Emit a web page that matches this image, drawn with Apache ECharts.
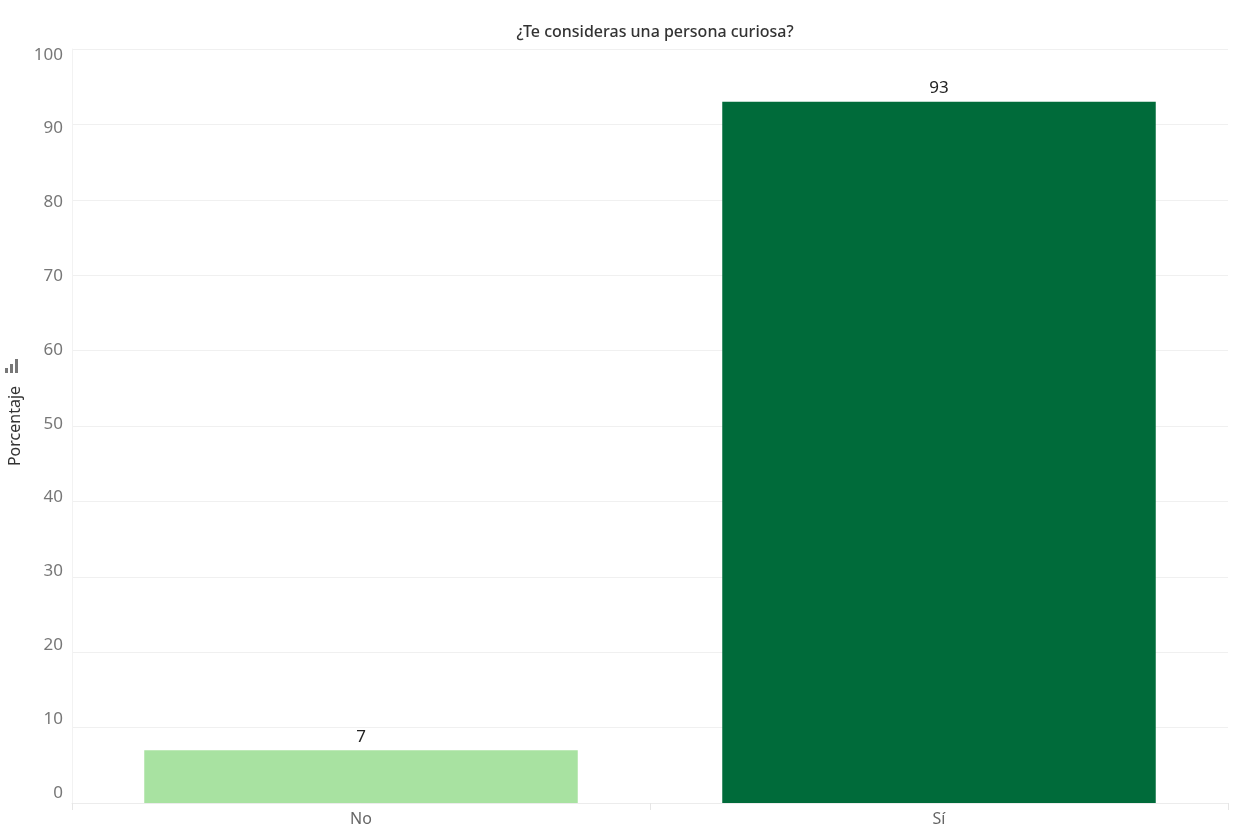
<!DOCTYPE html>
<html>
<head>
<meta charset="utf-8">
<script src="https://cdn.jsdelivr.net/npm/echarts@6/dist/echarts.min.js"></script>
<style>html,body{margin:0;padding:0;background:#fff;}#c{width:1239px;height:829px;}</style>
</head>
<body>
<div id="c"></div>
<script>
const categories = ['No', 'Sí'];
const values = [7, 93];
const barColors = ['#a8e2a1', '#006b3a'];
const yTicks = [0, 10, 20, 30, 40, 50, 60, 70, 80, 90, 100];
const titleText = '¿Te consideras una persona curiosa?';
const yName = 'Porcentaje';

const font = '"Noto Sans", "Open Sans", sans-serif';
const chart = echarts.init(document.getElementById('c'));
chart.setOption({
  animation: false,
  backgroundColor: '#ffffff',
  title: {
    text: titleText,
    left: 650, top: 19, textAlign: 'center',
    textStyle: { fontFamily: font, fontSize: 16, fontWeight: 500, color: '#333333' }
  },
  grid: { left: 72, right: 11, top: 49, bottom: 26, containLabel: false, outerBoundsMode: 'none' },
  xAxis: {
    type: 'category',
    data: categories,
    boundaryGap: true,
    axisLine: { show: true, lineStyle: { color: '#ececec', width: 1 } },
    axisTick: { show: true, length: 7, lineStyle: { color: '#e6e6e6' } },
    axisLabel: { fontFamily: font, fontSize: 16, color: '#666666', margin: 8 },
    splitLine: { show: false }
  },
  yAxis: [
    {
      type: 'value', min: 0, max: 100, interval: 10,
      name: yName, nameLocation: 'middle', nameGap: 49, nameRotate: 90,
      nameTextStyle: { fontFamily: font, fontSize: 16, color: '#333333' },
      axisLine: { show: true, lineStyle: { color: '#f2f2f2' } },
      axisTick: { show: false },
      axisLabel: { show: false },
      splitLine: { show: true, lineStyle: { color: '#f0f0f0', width: 1 } }
    },
    {
      type: 'value', min: -1.36, max: 100.77, position: 'left',
      axisLine: { show: false }, axisTick: { show: false }, splitLine: { show: false },
      axisLabel: { show: true, customValues: yTicks, fontFamily: font, fontSize: 17, color: '#777777', margin: 9 }
    }
  ],
  graphic: [{
    type: 'group', left: 5, top: 359,
    children: [
      { type: 'rect', shape: { x: 0, y: 9, width: 3, height: 5 }, style: { fill: '#777777' } },
      { type: 'rect', shape: { x: 5, y: 5, width: 3, height: 9 }, style: { fill: '#777777' } },
      { type: 'rect', shape: { x: 10, y: 0, width: 3, height: 14 }, style: { fill: '#777777' } }
    ]
  }],
  series: [{
    type: 'bar',
    yAxisIndex: 0,
    barWidth: '75%',
    data: values.map((v, i) => ({ value: v, itemStyle: { color: barColors[i] } })),
    label: { show: true, position: 'top', distance: 5, fontFamily: font, fontSize: 17, color: '#222222' }
  }]
});
</script>
</body>
</html>
